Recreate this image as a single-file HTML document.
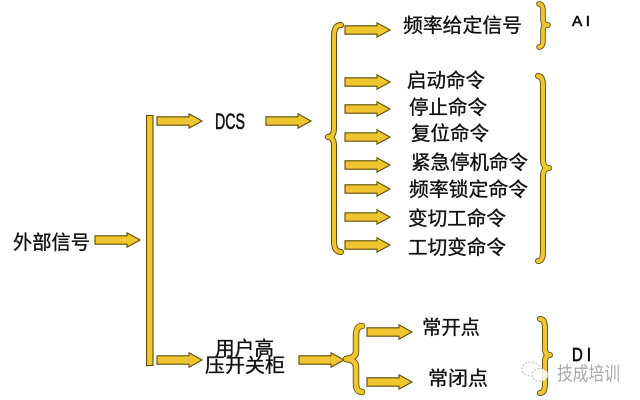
<!DOCTYPE html>
<html><head><meta charset="utf-8"><style>
html,body{margin:0;padding:0;background:#fff;}
svg{display:block;}
text{font-family:"Liberation Sans","Noto Sans CJK SC",sans-serif;fill:#111;stroke:#111;stroke-width:0.35;}
</style></head><body>
<svg width="640" height="400" viewBox="0 0 640 400" xmlns="http://www.w3.org/2000/svg">
<defs>
<g id="arr">
<polygon points="0,-4.2 32,-4.2 32,-7.2 45,0 32,7.2 32,4.2 0,4.2" fill="#efc62f" stroke="#5e4c05" stroke-width="1.1" stroke-linejoin="miter"/>
</g>
</defs>
<rect x="0" y="0" width="640" height="400" fill="#fff"/>
<!-- main bar -->
<rect x="146.5" y="115.5" width="6.5" height="250" fill="#efc62f" stroke="#5e4c05" stroke-width="1.1"/>
<!-- arrows -->
<use href="#arr" x="95" y="240"/>
<use href="#arr" x="157" y="121"/>
<use href="#arr" x="266" y="121"/>
<use href="#arr" x="157" y="360"/>
<use href="#arr" x="299" y="360"/>
<use href="#arr" x="345" y="30"/>
<use href="#arr" x="345" y="82"/>
<use href="#arr" x="345" y="109"/>
<use href="#arr" x="345" y="137"/>
<use href="#arr" x="345" y="165"/>
<use href="#arr" x="345" y="189"/>
<use href="#arr" x="345" y="217"/>
<use href="#arr" x="345" y="245"/>
<use href="#arr" x="367" y="332"/>
<use href="#arr" x="367" y="382"/>
<!-- braces -->
<g fill="none" stroke-linecap="round" stroke-linejoin="round">
<path d="M341 25 Q334 25 334 36 L334 128 Q334 137 328 137 Q334 137 334 146 L334 241 Q334 252 341 252" stroke="#5e4c05" stroke-width="6"/>
<path d="M341 25 Q334 25 334 36 L334 128 Q334 137 328 137 Q334 137 334 146 L334 241 Q334 252 341 252" stroke="#efc62f" stroke-width="4"/>
<path d="M539 4 Q543 4 543 11 L543 20 Q543 25 548 25 Q543 25 543 30 L543 40 Q543 47 539 47" stroke="#5e4c05" stroke-width="5.5"/>
<path d="M539 4 Q543 4 543 11 L543 20 Q543 25 548 25 Q543 25 543 30 L543 40 Q543 47 539 47" stroke="#efc62f" stroke-width="3.8"/>
<path d="M538 76 Q543 76 543 86 L543 160 Q543 168 549 168 Q543 168 543 176 L543 251 Q543 261 538 261" stroke="#5e4c05" stroke-width="6"/>
<path d="M538 76 Q543 76 543 86 L543 160 Q543 168 549 168 Q543 168 543 176 L543 251 Q543 261 538 261" stroke="#efc62f" stroke-width="4.2"/>
<path d="M362 326 Q356 326 356 336 L356 351 Q356 358 346 359 Q356 360 356 367 L356 383 Q356 392 362 392" stroke="#5e4c05" stroke-width="6.5"/>
<path d="M362 326 Q356 326 356 336 L356 351 Q356 358 346 359 Q356 360 356 367 L356 383 Q356 392 362 392" stroke="#efc62f" stroke-width="4.8"/>
<path d="M540 319 Q545 319 545 329 L545 348 Q545 355 550 355 Q545 355 545 362 L545 383 Q545 393 540 393" stroke="#5e4c05" stroke-width="6"/>
<path d="M540 319 Q545 319 545 329 L545 348 Q545 355 550 355 Q545 355 545 362 L545 383 Q545 393 540 393" stroke="#efc62f" stroke-width="4.2"/>
</g>
<!-- labels -->
<g font-size="19.5">
<text x="13" y="249" textLength="77" lengthAdjust="spacingAndGlyphs">外部信号</text>
<text x="403" y="32" textLength="119" lengthAdjust="spacingAndGlyphs">频率给定信号</text>
<text x="407" y="87" textLength="78" lengthAdjust="spacingAndGlyphs">启动命令</text>
<text x="409" y="114" textLength="78" lengthAdjust="spacingAndGlyphs">停止命令</text>
<text x="411" y="140" textLength="78" lengthAdjust="spacingAndGlyphs">复位命令</text>
<text x="411" y="169" textLength="117" lengthAdjust="spacingAndGlyphs">紧急停机命令</text>
<text x="409" y="196" textLength="119" lengthAdjust="spacingAndGlyphs">频率锁定命令</text>
<text x="408" y="225" textLength="98" lengthAdjust="spacingAndGlyphs">变切工命令</text>
<text x="408" y="254" textLength="98" lengthAdjust="spacingAndGlyphs">工切变命令</text>
<text x="215" y="355" textLength="59" lengthAdjust="spacingAndGlyphs">用户高</text>
<text x="205" y="372" textLength="80" lengthAdjust="spacingAndGlyphs">压开关柜</text>
<text x="422" y="334" textLength="58" lengthAdjust="spacingAndGlyphs">常开点</text>
<text x="428" y="385" textLength="60" lengthAdjust="spacingAndGlyphs">常闭点</text>
</g>
<text x="215" y="129" font-size="22" textLength="30" lengthAdjust="spacingAndGlyphs" style="stroke-width:0.6">DCS</text>
<text x="572" y="26" font-size="15" textLength="18" lengthAdjust="spacingAndGlyphs" style="stroke-width:0.6">A I</text>
<text x="572" y="361" font-size="18" textLength="19" lengthAdjust="spacingAndGlyphs" style="stroke-width:0.7">D I</text>
<!-- watermark -->
<g opacity="0.85">
<ellipse cx="531" cy="369" rx="9" ry="7" fill="#fff" stroke="#bbb" stroke-width="1.2" stroke-dasharray="2 1.5"/>
<ellipse cx="540" cy="375" rx="8" ry="6.5" fill="#fff" stroke="#bbb" stroke-width="1.2" stroke-dasharray="2 1.5"/>
<text x="557" y="380" font-size="19" textLength="63" lengthAdjust="spacingAndGlyphs" style="fill:#9a9a9a;stroke:none">技成培训</text>
</g>
</svg>
</body></html>
